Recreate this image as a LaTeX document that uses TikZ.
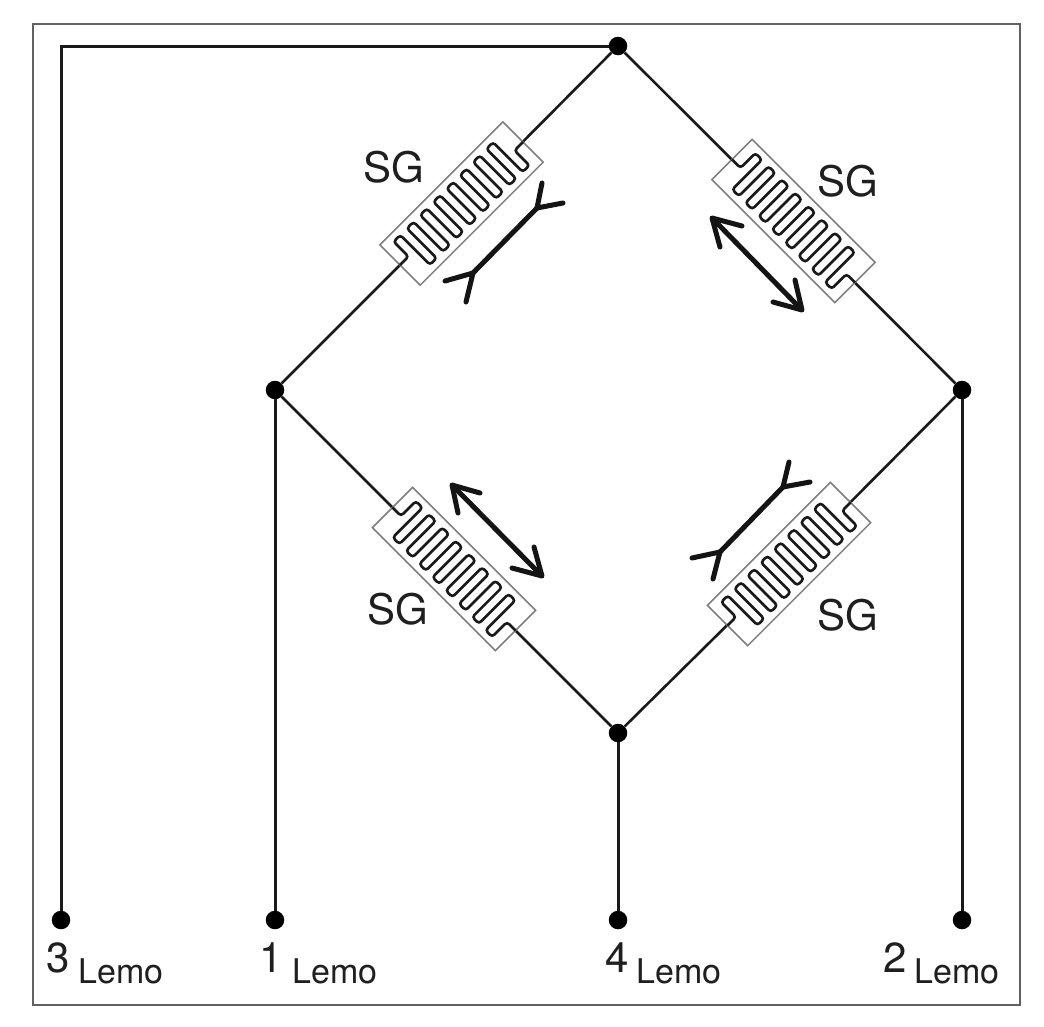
\documentclass[tikz,border=0pt]{standalone}
\usepackage{fontspec}
\setmainfont{TeX Gyre Heros}
\begin{document}
\begin{tikzpicture}[x=1pt,y=-1pt,
  wire/.style={line width=2.6pt,black!90},
  lead/.style={line width=3pt,black!90},
  joint/.style={circle,fill=black,inner sep=0pt,minimum size=18.5pt},
  gaugebox/.style={draw=black!50,line width=1.5pt,fill=white,inner sep=0pt,minimum width=174pt,minimum height=57pt},
  strain/.style={line width=5pt,black!92,line cap=round,line join=round},
  biglabel/.style={inner sep=0pt,anchor=base west,text=black!88,font=\fontsize{42}{50}\selectfont},
  smalllabel/.style={inner sep=0pt,anchor=base west,text=black!88,font=\fontsize{34}{41}\selectfont},
  meander/.pic={
    \draw[line width=2.6pt,black!90,rounded corners=3pt]
      (-87,0) -- (-75,0) -- (-75,-21) -- (-65.6,-21) -- (-65.6,21) -- (-56.25,21) -- (-56.25,-21)
      -- (-46.9,-21) -- (-46.9,21) -- (-37.5,21) -- (-37.5,-21) -- (-28.1,-21) -- (-28.1,21)
      -- (-18.75,21) -- (-18.75,-21) -- (-9.4,-21) -- (-9.4,21) -- (0,21) -- (0,-21)
      -- (9.4,-21) -- (9.4,21) -- (18.75,21) -- (18.75,-21) -- (28.1,-21) -- (28.1,21)
      -- (37.5,21) -- (37.5,-21) -- (46.9,-21) -- (46.9,21) -- (56.25,21) -- (56.25,-21)
      -- (65.6,-21) -- (65.6,21) -- (75,21) -- (75,0) -- (87,0);
  }]
\useasboundingbox (0,0) rectangle (1044,1026);
\fill[white] (0,0) rectangle (1044,1026);
\draw[line width=1.7pt,black!62] (33,24) rectangle (1020,1005);

% junctions
\node[joint] (T) at (618,46) {};
\node[joint] (L) at (275,390) {};
\node[joint] (R) at (962,390) {};
\node[joint] (B) at (618,733) {};
\node[joint] (p3) at (61,920) {};
\node[joint] (p1) at (275,920) {};
\node[joint] (p4) at (618,920) {};
\node[joint] (p2) at (962,920) {};
\coordinate (corner) at (61,46);

% strain gauges
\node[gaugebox,rotate=45] (g1) at (461.5,203.5) {};
\node[gaugebox,rotate=-45] (g2) at (793.5,221) {};
\node[gaugebox,rotate=-45] (g3) at (454,569) {};
\node[gaugebox,rotate=45] (g4) at (789,564) {};
\pic[rotate=225] at (g1) {meander};
\pic[rotate=-45] at (g2) {meander};
\pic[rotate=-45] at (g3) {meander};
\pic[rotate=225] at (g4) {meander};

% wires
\draw[wire] (T) -- (g1);
\draw[wire] (g1) -- (L);
\draw[wire] (T) -- (g2);
\draw[wire] (g2) -- (R);
\draw[wire] (L) -- (g3);
\draw[wire] (g3) -- (B);
\draw[wire] (R) -- (g4);
\draw[wire] (g4) -- (B);
\draw[lead] (T) -- (corner) -- (p3);
\draw[lead] (L) -- (p1);
\draw[lead] (B) -- (p4);
\draw[lead] (R) -- (p2);

% strain direction marks
\draw[strain] (473,273) -- (537,208);
\draw[strain] (542,183) -- (537,208) -- (563,203);
\draw[strain] (445,281) -- (473,273) -- (466,302);
\draw[strain] (720,552) -- (783,487);
\draw[strain] (789,462) -- (783,487) -- (810,482);
\draw[strain] (692,558) -- (720,552) -- (713,579);
\draw[strain] (714,220) -- (800,308);
\draw[strain] (742,226) -- (712,218) -- (720,247);
\draw[strain] (773,302) -- (802,310) -- (795,280);
\draw[strain] (454,487) -- (540,574);
\draw[strain] (480,493) -- (452,485) -- (458,513);
\draw[strain] (512,568) -- (542,576) -- (534,547);

% labels
\node[biglabel] (s1) at (363,182) {SG};
\node[biglabel] (s2) at (817,196) {SG};
\node[biglabel] (s3) at (367,624) {SG};
\node[biglabel] (s4) at (817,630) {SG};
\node[biglabel] (n3) at (46,972) {3};
\node[smalllabel] (l3) at (78,983) {Lemo};
\node[biglabel] (n1) at (259,972) {1};
\node[smalllabel] (l1) at (292,983) {Lemo};
\node[biglabel] (n4) at (605,972) {4};
\node[smalllabel] (l4) at (636,983) {Lemo};
\node[biglabel] (n2) at (883,972) {2};
\node[smalllabel] (l2) at (914,983) {Lemo};
\end{tikzpicture}
\end{document}
